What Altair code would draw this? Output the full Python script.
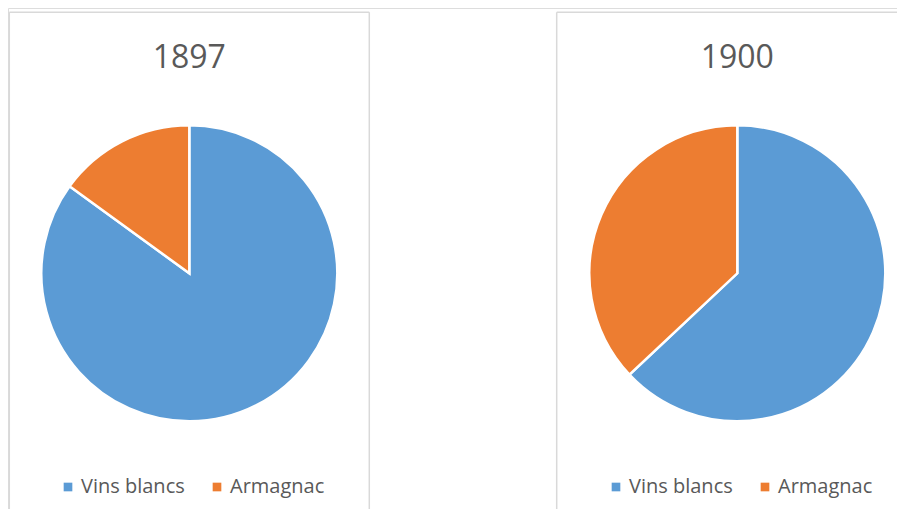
import altair as alt
import pandas as pd

years = ["1897", "1900"]
categories = ["Vins blancs", "Armagnac"]
values_1897 = [85, 15]
values_1900 = [63, 37]
colors = ["#5B9BD5", "#ED7D31"]

FONT = "Open Sans"
GREY = "#595959"
BORDER = "#D9D9D9"

def pie_df(vals):
    return pd.DataFrame({"category": categories, "value": vals, "idx": list(range(len(categories)))})

W, H = 889, 501
R = 148
centers = [(181.3, 265.3), (729.3, 265.3)]
legend_pos = [(50, 469), (598, 469)]

def pie(vals, cx, cy, lx, ly):
    return alt.Chart(pie_df(vals)).mark_arc(radius=R, stroke="white", strokeWidth=2.5).encode(
        theta=alt.Theta("value:Q", stack=True),
        order=alt.Order("idx:Q"),
        color=alt.Color(
            "category:N",
            scale=alt.Scale(domain=categories, range=colors),
            legend=alt.Legend(
                title=None, orient="none", legendX=lx, legendY=ly, direction="horizontal",
                symbolType="square", symbolSize=75, symbolStrokeWidth=0,
                labelFont=FONT, labelFontSize=20, labelColor=GREY,
                labelOffset=3, columnPadding=22,
            ),
        ),
        x=alt.value(cx),
        y=alt.value(cy),
    )

def title(txt, cx):
    return alt.Chart(pd.DataFrame({"t": [txt]})).mark_text(
        font=FONT, fontSize=32, color=GREY, align="center", baseline="alphabetic"
    ).encode(text="t:N", x=alt.value(cx), y=alt.value(60))

def vrule(x):
    return alt.Chart(pd.DataFrame({"a": [0]})).mark_rule(color=BORDER, strokeWidth=1.5).encode(
        x=alt.value(x), y=alt.value(4.3), y2=alt.value(H))

def hrule(x1, x2):
    return alt.Chart(pd.DataFrame({"a": [0]})).mark_rule(color=BORDER, strokeWidth=1.5).encode(
        x=alt.value(x1), x2=alt.value(x2), y=alt.value(4.3))

layers = [
    vrule(1.3), vrule(361.3), hrule(1.3, 361.3),
    vrule(548.7), hrule(548.7, W),
    title(years[0], centers[0][0]), title(years[1], centers[1][0]),
    pie(values_1897, centers[0][0], centers[0][1], *legend_pos[0]),
    pie(values_1900, centers[1][0], centers[1][1], *legend_pos[1]),
]

chart = alt.layer(*layers).resolve_scale(color="independent").properties(
    width=W, height=H, padding=0, autosize=alt.AutoSizeParams(type="none")
).configure_view(stroke="transparent", strokeWidth=0).configure(background="white")

chart.save("out.html", embed_options={"renderer": "svg", "actions": False})
